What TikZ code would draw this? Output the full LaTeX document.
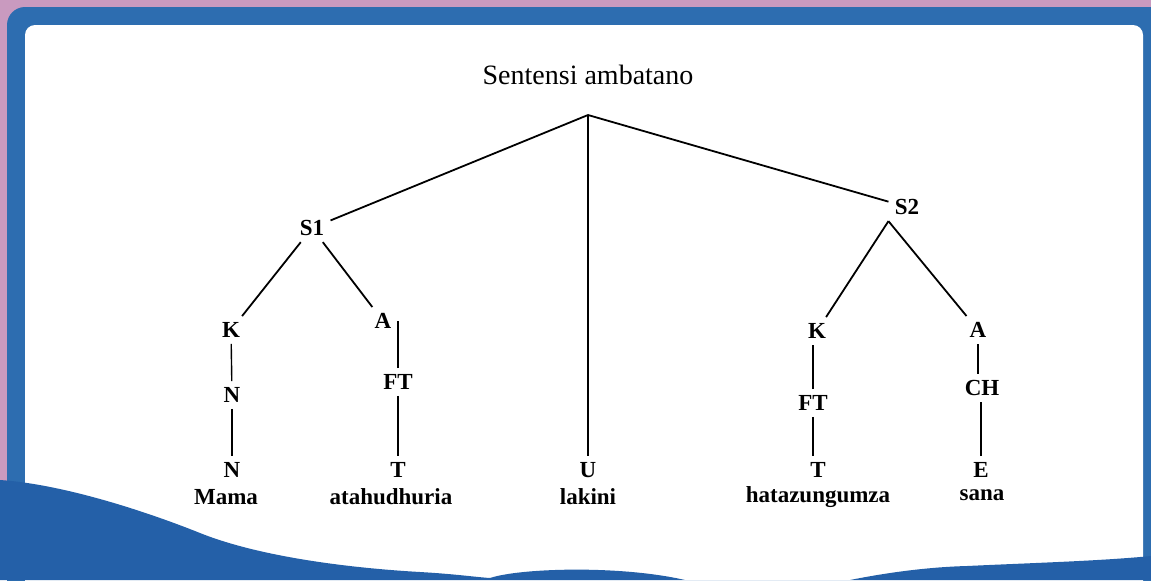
\documentclass[tikz,border=0pt]{standalone}
\usepackage{fontspec}
\setmainfont{Liberation Serif}
\definecolor{pinkbg}{HTML}{C99ABF}
\definecolor{bluebg}{HTML}{2D6DB0}
\definecolor{bluewave}{HTML}{2460A8}
\begin{document}
\begin{tikzpicture}[x=0.5pt,y=-0.5pt]
    \tikzstyle{title} = [font=\fontsize{14}{16}\selectfont, inner sep=2pt]
    \tikzstyle{lbl} = [font=\bfseries\fontsize{11.5}{13}\selectfont, inner sep=3pt]
    \tikzstyle{word} = [font=\bfseries\fontsize{11.5}{13}\selectfont, inner sep=1pt]
    \tikzstyle{branch} = [line width=0.9pt]
    \tikzstyle{stem} = [line width=0.7pt]

    \useasboundingbox (0,0) rectangle (1151,580);

    % frame and page
    \fill[pinkbg] (0,0) rectangle (1151,580);
    \fill[bluebg, rounded corners=9pt] (7,7) rectangle (1180,620);
    \fill[white, rounded corners=5pt] (25,25) rectangle (1143,620);
    \fill[bluewave] (0,480) .. controls (60,484) and (140,509) .. (200,533)
        .. controls (260,557) and (350,568) .. (420,572)
        .. controls (455,574) and (475,577) .. (490,578)
        .. controls (520,568) and (620,565) .. (685,580) -- (850,580)
        .. controls (890,572) and (930,567) .. (967,566)
        .. controls (1030,563) and (1100,561) .. (1151,556)
        -- (1151,580) -- (0,580) -- cycle;

    % top
    \node [title] (title) at (588,75) {Sentensi ambatano};
    \coordinate (root) at (588,115);

    % left clause
    \node [lbl] (s1) at (312,228) {S1};
    \node [lbl] (k1) at (231,330) {K};
    \node [lbl] (n1) at (232,395) {N};
    \node [lbl] (nn1) at (232,470) {N};
    \node [word] (mama) at (226,497) {Mama};
    \node [lbl] (a1) at (383,321) {A};
    \node [lbl] (ft1) at (398,382) {FT};
    \node [lbl] (t1) at (398,470) {T};
    \node [word] (atah) at (391,497) {atahudhuria};

    % conjunction
    \node [lbl] (u) at (588,470) {U};
    \node [word] (lakini) at (588,497) {lakini};

    % right clause
    \node [lbl] (s2) at (907,207) {S2};
    \node [lbl] (k2) at (817,331) {K};
    \node [lbl] (ft2) at (813,403) {FT};
    \node [lbl] (t2) at (818,470) {T};
    \node [word] (hata) at (818,497) {hatazungumza};
    \node [lbl] (a2) at (978,330) {A};
    \node [lbl] (ch) at (982,388) {CH};
    \node [lbl] (e) at (981,470) {E};
    \node [word] (sana) at (982,495) {sana};

    % branches
    \draw [branch] (root) -- (s1);
    \draw [branch] (root) -- (s2);
    \draw [stem] (root) -- (u);
    \draw [branch] (s1) -- (k1);
    \draw [branch] (s1) -- (a1);
    \draw [branch] (s2.south west) -- (k2);
    \draw [branch] (s2.south west) -- (a2);

    \draw [stem] (k1) -- (n1);
    \draw [stem] (n1) -- (nn1);
    \draw [stem] (ft1.north) -- (ft1.north |- a1.center);
    \draw [stem] (ft1) -- (t1);
    \draw [stem] (ft2.north) -- (ft2.north |- k2.south);
    \draw [stem] (ft2.south) -- (ft2.south |- t2.north);
    \draw [stem] (a2) -- (ch.north -| a2);
    \draw [stem] (e.north) -- (e.north |- ch.south);
\end{tikzpicture}
\end{document}
